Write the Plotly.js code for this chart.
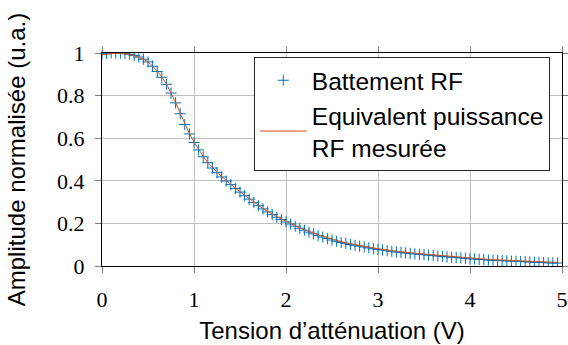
<!DOCTYPE html>
<html>
<head>
<meta charset="utf-8">
<script src="https://cdn.plot.ly/plotly-3.0.1.min.js"></script>
<style>html,body{margin:0;padding:0;background:#fff;}</style>
</head>
<body>
<div id="chart" style="width:568px;height:345px;"></div>
<script>
// Tension d'atténuation (V)
const tension = [0.00,0.05,0.10,0.15,0.20,0.25,0.30,0.35,0.40,0.45,0.50,0.55,0.60,0.65,0.70,0.75,0.80,0.85,0.90,0.95,
  1.00,1.05,1.10,1.15,1.20,1.25,1.30,1.35,1.40,1.45,1.50,1.55,1.60,1.65,1.70,1.75,1.80,1.85,1.90,1.95,
  2.00,2.05,2.10,2.15,2.20,2.25,2.30,2.35,2.40,2.45,2.50,2.55,2.60,2.65,2.70,2.75,2.80,2.85,2.90,2.95,
  3.00,3.05,3.10,3.15,3.20,3.25,3.30,3.35,3.40,3.45,3.50,3.55,3.60,3.65,3.70,3.75,3.80,3.85,3.90,3.95,
  4.00,4.05,4.10,4.15,4.20,4.25,4.30,4.35,4.40,4.45,4.50,4.55,4.60,4.65,4.70,4.75,4.80,4.85,4.90,4.95];

// Battement RF (markers)
const battementRF = [0.995,0.997,1.000,1.000,0.999,0.997,0.993,0.988,0.981,0.971,0.958,0.938,0.913,0.886,0.853,0.812,0.766,0.715,0.664,0.620,
  0.580,0.545,0.513,0.485,0.460,0.438,0.418,0.399,0.382,0.364,0.347,0.330,0.314,0.298,0.283,0.268,0.254,0.241,0.229,0.218,
  0.207,0.197,0.187,0.177,0.168,0.159,0.151,0.143,0.136,0.129,0.122,0.116,0.111,0.106,0.101,0.097,0.093,0.089,0.085,0.081,
  0.078,0.075,0.072,0.069,0.066,0.064,0.061,0.059,0.057,0.055,0.053,0.051,0.049,0.047,0.045,0.043,0.041,0.040,0.038,0.036,
  0.034,0.033,0.031,0.030,0.028,0.027,0.026,0.025,0.024,0.023,0.022,0.021,0.020,0.019,0.018,0.017,0.016,0.015,0.014,0.014];

// Equivalent puissance RF mesurée (line)
const puissanceRF = [0.992,0.995,0.998,0.999,0.998,0.996,0.993,0.988,0.981,0.971,0.958,0.939,0.915,0.888,0.855,0.814,0.768,0.717,0.666,0.622,
  0.582,0.547,0.515,0.487,0.462,0.440,0.420,0.401,0.384,0.366,0.349,0.332,0.316,0.300,0.285,0.270,0.256,0.243,0.231,0.220,
  0.209,0.199,0.189,0.179,0.170,0.161,0.153,0.146,0.139,0.132,0.125,0.119,0.114,0.109,0.104,0.100,0.096,0.092,0.088,0.084,
  0.081,0.078,0.075,0.072,0.069,0.067,0.064,0.062,0.060,0.058,0.056,0.054,0.052,0.050,0.048,0.046,0.044,0.043,0.041,0.039,
  0.037,0.036,0.034,0.033,0.031,0.030,0.029,0.028,0.027,0.026,0.025,0.024,0.023,0.022,0.021,0.020,0.019,0.018,0.018,0.017];

const xTicks = [0,1,2,3,4,5];
const yTicks = [0,0.2,0.4,0.6,0.8,1];

const serif = 'Liberation Serif';
const sans = 'Liberation Sans';

const traces = [
  {
    x: tension, y: battementRF, type: 'scatter', mode: 'markers',
    name: 'Battement RF',
    marker: {symbol: 'cross-thin', size: 8, color: '#0072bd', line: {color: '#0072bd', width: 1}}
  },
  {
    x: tension, y: puissanceRF, type: 'scatter', mode: 'lines',
    name: 'Equivalent puissance<br>RF mesurée',
    line: {color: '#d95319', width: 1}
  }
];

function axisCommon() {
  return {
    showline: true, linecolor: '#000', linewidth: 1, mirror: 'ticks',
    ticks: 'outside', ticklen: 6, tickcolor: '#808080', tickwidth: 1,
    showgrid: true, gridcolor: '#c0c0c0', gridwidth: 1,
    zeroline: false,
    tickfont: {family: serif, size: 22, color: '#000'}
  };
}

const layout = {
  width: 568, height: 345,
  margin: {l: 102, r: 6, t: 53, b: 79},
  paper_bgcolor: '#fff', plot_bgcolor: '#fff',
  font: {family: serif, size: 22, color: '#000'},
  showlegend: true,
  xaxis: Object.assign(axisCommon(), {
    range: [0, 5], tickvals: xTicks, ticktext: xTicks.map(String),
    ticklabelstandoff: 8,
    title: {text: 'Tension d’atténuation (V)', font: {family: sans, size: 24, color: '#000'}, standoff: 10}
  }),
  yaxis: Object.assign(axisCommon(), {
    range: [0, 1], tickvals: yTicks, ticktext: yTicks.map(String),
    ticklabelstandoff: 6,
    title: {text: 'Amplitude normalisée (u.a.)', font: {family: sans, size: 24, color: '#000'}, standoff: 24}
  }),
  legend: {
    x: 0.33, y: 0.982, xanchor: 'left', yanchor: 'top',
    bgcolor: '#fff', bordercolor: '#262626', borderwidth: 1,
    itemwidth: 47,
    font: {family: sans, size: 24.5, color: '#000'},
    tracegroupgap: 0
  }
};

Plotly.newPlot('chart', traces, layout, {displayModeBar: false, staticPlot: true});
</script>
</body>
</html>
